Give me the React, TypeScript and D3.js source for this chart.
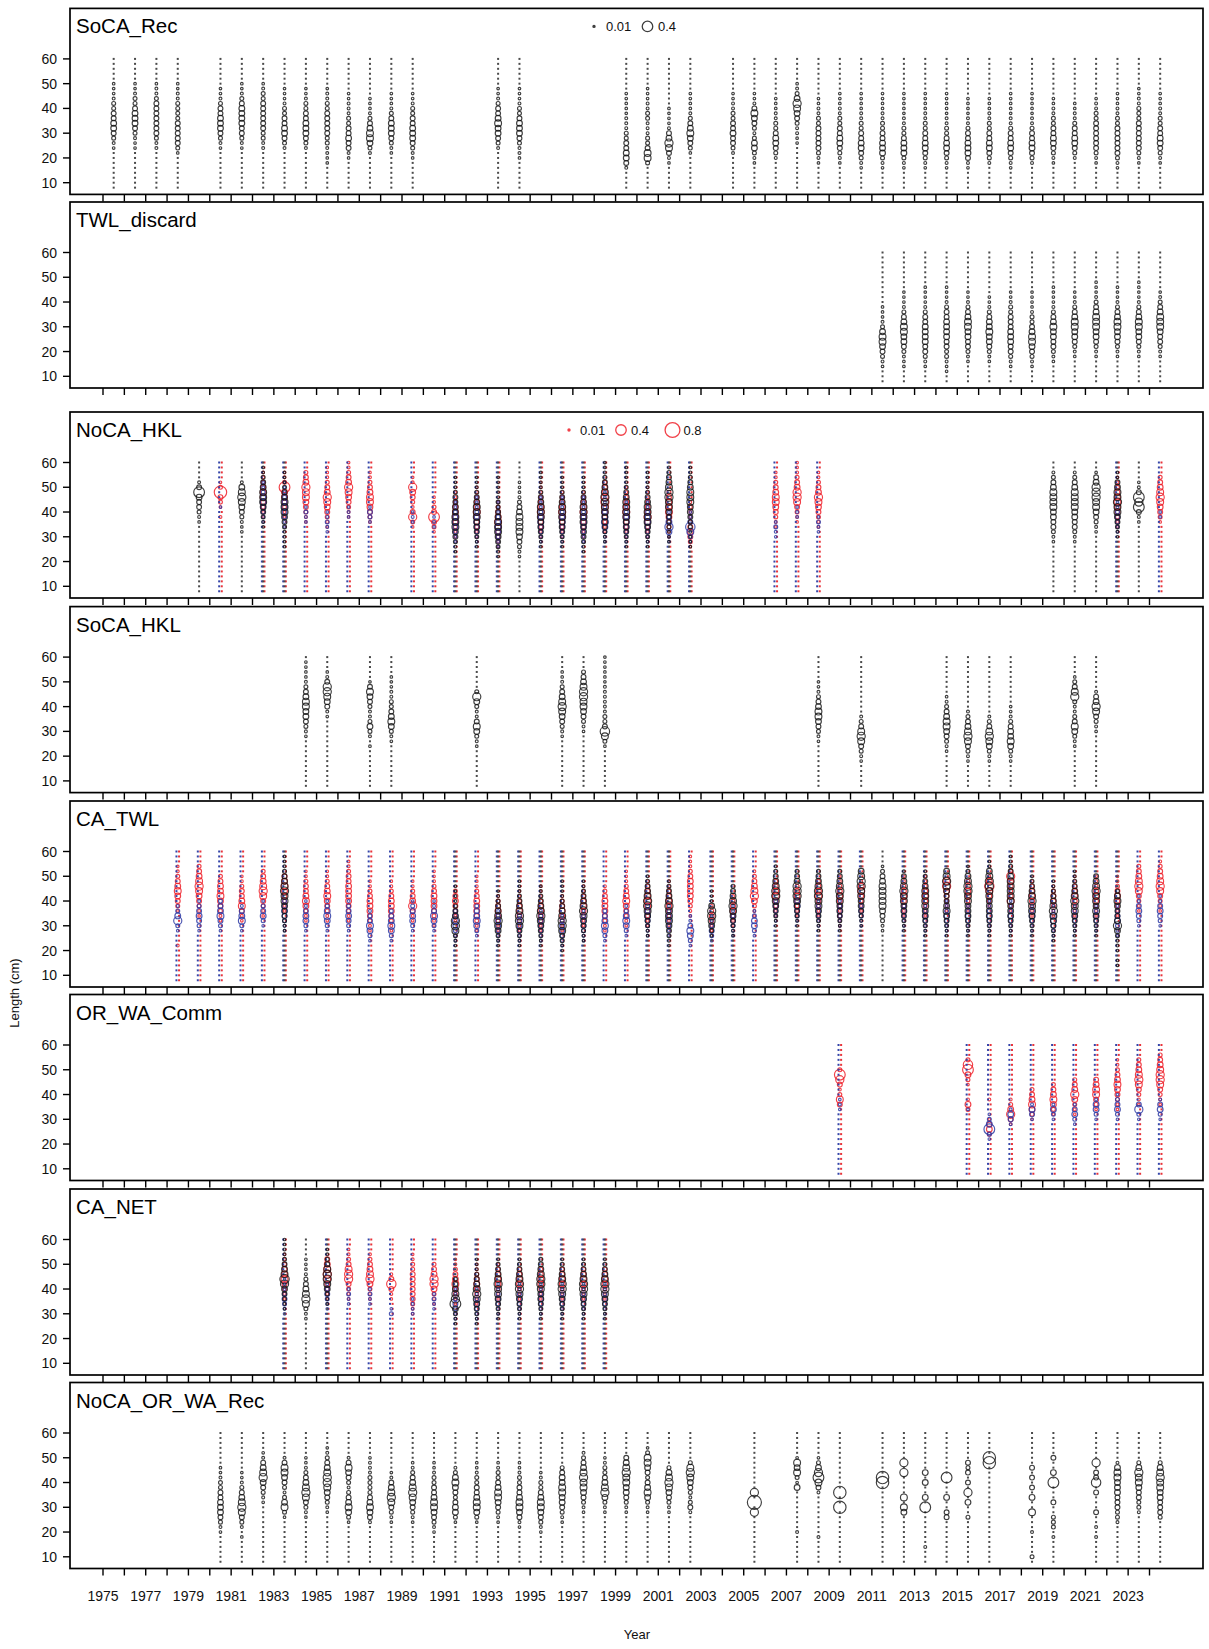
import React from 'react';
import * as d3 from 'd3';

// each row: [year, first length bin (cm), proportion codes for successive 2-cm bins]
type Row = [number, number, string];

const LEVEL: Record<string, number> = {
  '0': 0, '1': 0.004, '2': 0.012, '3': 0.03, '4': 0.055, '5': 0.085, '6': 0.12,
  '7': 0.17, '8': 0.24, '9': 0.32, a: 0.42, b: 0.56, c: 0.72,
};

const yearTicks = d3.range(1975, 2025);
const yearLabels = d3.range(1975, 2024, 2);
const lengthTicks = [10, 20, 30, 40, 50, 60];
const bins = d3.range(8, 61, 2);

const socaRec: Row[] = [
  [1975, 24, '23456655443221'], [1976, 24, '22345666544321'], [1977, 24, '33455555554332'],
  [1978, 22, '245555544443322'], [1980, 24, '2345666554321'], [1981, 24, '23455666654321'],
  [1982, 24, '33445555554432'], [1983, 24, '3456655443221'], [1984, 24, '3456665544321'],
  [1985, 18, '2233445555544332'], [1986, 20, '23556554433322'], [1987, 22, '346776543221'],
  [1988, 22, '2345666543221'], [1989, 20, '23456665544321'], [1993, 24, '3456676554321'],
  [1994, 20, '233456665443221'], [1999, 16, '3566554433322211'], [2000, 18, '4775443334433221'],
  [2001, 18, '235786532111'], [2002, 22, '2456765432211'], [2004, 22, '3455655443321'],
  [2005, 18, '234664345675321'], [2006, 20, '3456654433221'], [2007, 26, '2233456786432'],
  [2008, 18, '23455555443322'], [2009, 18, '234566554433221'], [2010, 16, '2345665544332211'],
  [2011, 16, '2346665544332211'], [2012, 16, '2346665443322111'], [2013, 16, '2345665544332211'],
  [2014, 16, '2345665443322111'], [2015, 16, '235666554332211'], [2016, 18, '34566554433221'],
  [2017, 16, '2345665543322111'], [2018, 18, '345665543322111'], [2019, 18, '23456655443322'],
  [2020, 20, '345665543322'], [2021, 18, '23455555544332'], [2022, 16, '2345555554433221'],
  [2023, 18, '2345555554443321'], [2024, 18, '234566554433221'],
];

const twlDiscard: Row[] = [
  [2011, 14, '2345677643221'], [2012, 14, '2234566776543221'], [2013, 14, '23455666655432211'],
  [2014, 12, '223445566665543221'], [2015, 16, '234556677654321'], [2016, 16, '23456676654321'],
  [2017, 14, '2345566655544321'], [2018, 14, '2345677654432211'], [2019, 16, '2345566765432211'],
  [2020, 18, '23456677654321'], [2021, 18, '2345667776543211'], [2022, 18, '234566776543221'],
  [2023, 18, '2345667765432211'], [2024, 18, '23455677765432'],
];

const nocaHklU: Row[] = [
  [1979, 36, '234556a53'], [1981, 32, '12345678763'], [1982, 34, '2345677765421'],
  [1983, 26, '2233456777654321'], [1991, 24, '2345677766554321'], [1992, 26, '234566777654321'],
  [1993, 22, '23456777654432211'], [1994, 22, '2345677776543211'], [1995, 26, '2345667776543221'],
  [1996, 26, '234566777654321'], [1997, 24, '2345667777654321'], [1998, 28, '23456677787654321'],
  [1999, 26, '23456677776543221'], [2000, 26, '2345677776543221'], [2001, 28, '2234456778876543'],
  [2002, 26, '22334456677765432'], [2019, 28, '234556677776543'], [2020, 28, '234556677776543'],
  [2021, 32, '2345677888652'], [2022, 30, '23456778776521'], [2023, 36, '235a8a532'],
];
const nocaHklF: Row[] = [
  [1980, 36, '030245b42'], [1982, 38, '2345665432'], [1983, 38, '234566a432'],
  [1984, 36, '23456778654'], [1985, 34, '2345678654321'], [1986, 38, '234567865432'],
  [1987, 36, '34567765432'], [1989, 34, '24853456832'], [1990, 32, '245a5432'],
  [1991, 30, '2345665432'], [1992, 30, '23456765432'], [1993, 26, '2345676543'],
  [1995, 30, '234567654321'], [1996, 30, '2345676543'], [1997, 30, '2345676543'],
  [1998, 32, '23456787654'], [1999, 30, '23456765432'], [2000, 30, '23467654321'],
  [2001, 30, '2345676654'], [2002, 26, '2456543343'], [2006, 34, '234567765432'],
  [2007, 36, '2345788654321'], [2008, 34, '234567865432'], [2022, 34, '23456765432'],
  [2024, 36, '2456787654'],
];
const nocaHklM: Row[] = [
  [1980, 42, '2'], [1982, 36, '234565432'], [1983, 34, '2345654321'], [1984, 36, '2342'],
  [1985, 32, '23432'], [1986, 38, '232'], [1987, 36, '2452'], [1989, 36, '232'], [1990, 34, '232'],
  [1991, 28, '234565432'], [1992, 28, '2345654321'], [1993, 26, '2345654321'],
  [1995, 28, '2345654321'], [1996, 28, '2345654321'], [1997, 28, '2345654321'],
  [1998, 28, '23467654321'], [1999, 28, '234565432'], [2000, 28, '234565432'],
  [2001, 28, '2368643'], [2002, 28, '2479532'], [2006, 30, '2342'], [2007, 38, '232'],
  [2008, 32, '2342'], [2022, 32, '2345432'], [2024, 38, '22'],
];

const socaHkl: Row[] = [
  [1984, 28, '2345667765432211'], [1985, 36, '2356788532'], [1987, 24, '20346433456752'],
  [1988, 26, '23467654433221'], [1992, 24, '234675334684'], [1996, 28, '23456787654321'],
  [1997, 30, '2345677887654'], [1998, 24, '2479544333333222111'], [2008, 26, '2345677654321'],
  [2010, 18, '2345787543'], [2014, 22, '234567765432'], [2015, 18, '23457876543'],
  [2016, 18, '2346787543'], [2017, 18, '234676654321'], [2020, 24, '234675433487542'],
  [2021, 30, '234578653'],
];

const caTwlU: Row[] = [
  [1983, 28, '2345567787654321'], [1991, 22, '2347886543321'], [1993, 22, '234678765432'],
  [1994, 22, '23457887654321'], [1995, 22, '2345678765432'], [1996, 20, '234578876543221'],
  [1997, 24, '2345678765432'], [2000, 26, '2345678876543'], [2001, 22, '23456777876543'],
  [2003, 26, '2467886321'], [2004, 26, '23456787654'], [2006, 30, '2345678876543'],
  [2007, 30, '234567888654'], [2008, 28, '2345677887654'], [2009, 28, '2345667787654'],
  [2010, 30, '234566778876'], [2011, 28, '23456777776542'], [2012, 28, '2345667787653'],
  [2013, 26, '23456677776543'], [2014, 26, '23456765567876'], [2015, 26, '234566677887642'],
  [2016, 26, '2345666677887632'], [2017, 26, '23456667777765432'], [2018, 26, '2345677876543'],
  [2019, 24, '2345678765432'], [2020, 26, '23456778765432'], [2021, 26, '2345676778765'],
  [2022, 14, '2202334686556764'],
];
const caTwlF: Row[] = [
  [1978, 22, '30000002456765432'], [1979, 34, '23456787654'], [1980, 32, '2345676654'],
  [1981, 32, '2357655432'], [1982, 34, '2345787654'], [1983, 36, '23456765'],
  [1984, 32, '23467655432'], [1985, 32, '23456765432'], [1986, 32, '2345666655432'],
  [1987, 28, '23456665432'], [1988, 28, '23456665432'], [1989, 32, '235865432'],
  [1990, 30, '234566654321'], [1991, 32, '2345654'], [1992, 28, '234566654321'],
  [1993, 28, '23456543'], [1994, 28, '234565432'], [1995, 28, '2345654321'],
  [1996, 28, '23456543'], [1997, 30, '234565432'], [1998, 28, '2345666543'],
  [1999, 30, '234567654321'], [2000, 30, '2345676543'], [2001, 30, '2345665432'],
  [2002, 34, '2345666654321'], [2003, 28, '234543'], [2004, 30, '2346543'],
  [2005, 34, '2346876543'], [2006, 34, '23457654'], [2007, 34, '2345654'],
  [2008, 34, '23457654'], [2009, 30, '23434565432'], [2010, 36, '2345763'],
  [2012, 34, '234565432'], [2013, 34, '234565432'], [2014, 36, '2345687'],
  [2015, 36, '2345654'], [2016, 38, '2457963'], [2017, 36, '247545684'],
  [2018, 34, '23456543'], [2019, 34, '2345543'], [2020, 34, '234565432'],
  [2021, 34, '234565432'], [2022, 34, '234565432'], [2023, 36, '2345787654'],
  [2024, 36, '23457876543'],
];
const caTwlM: Row[] = [
  [1978, 28, '248643'], [1979, 28, '2456543'], [1980, 28, '2457654'], [1981, 28, '247653'],
  [1982, 30, '246542'], [1983, 28, '2345654'], [1984, 28, '2466532'], [1985, 28, '2467643'],
  [1986, 28, '2456543'], [1987, 24, '2467543'], [1988, 24, '2467654'], [1989, 28, '2466542'],
  [1990, 28, '2467532'], [1991, 24, '2345654'], [1992, 26, '2467654'], [1993, 24, '2345543'],
  [1994, 24, '234554'], [1995, 24, '2345543'], [1996, 22, '2345543'], [1997, 24, '2345543'],
  [1998, 24, '2467654'], [1999, 26, '2467643'], [2000, 26, '2345654'], [2001, 26, '2345543'],
  [2002, 22, '2467532'], [2003, 24, '245432'], [2004, 26, '2345432'], [2005, 26, '246642'],
  [2006, 32, '23454'], [2007, 32, '24565'], [2008, 30, '234543'], [2009, 30, '234543'],
  [2010, 30, '23454'], [2012, 30, '23454'], [2013, 28, '234543'], [2014, 28, '2345432'],
  [2015, 28, '234543'], [2016, 28, '2345432'], [2017, 28, '2345432'], [2018, 28, '2346532'],
  [2019, 26, '2356632'], [2020, 28, '234543'], [2021, 28, '234543'], [2022, 26, '2346543'],
  [2023, 30, '2456532'], [2024, 30, '2456532'],
];

const orwaCommF: Row[] = [
  [2009, 36, '574358a4'], [2015, 34, '46300246a94'], [2016, 24, '46520003'],
  [2017, 28, '258643'], [2018, 30, '2467654'], [2019, 32, '2467654'], [2020, 32, '23468654'],
  [2021, 34, '2457765'], [2022, 34, '23456765432'], [2023, 36, '2345787654'],
  [2024, 36, '23457887654'],
];
const orwaCommM: Row[] = [
  [2009, 34, '232'], [2015, 34, '2'], [2016, 22, '24a642'], [2017, 28, '3563'],
  [2018, 30, '2563'], [2019, 30, '2463'], [2020, 28, '24653'], [2021, 30, '24663'],
  [2022, 30, '246542'], [2023, 30, '2485'], [2024, 30, '24653'],
];

const caNetU: Row[] = [
  [1983, 32, '234568976543322'], [1984, 28, '2347876543221'], [1985, 34, '234678875432'],
  [1991, 26, '2346a87654'], [1992, 26, '23456787654321'], [1993, 28, '2345677876543'],
  [1994, 28, '2345678876543'], [1995, 28, '2345667887654'], [1996, 28, '2345678876543'],
  [1997, 28, '2345678876543'], [1998, 28, '2345678876543'],
];
const caNetF: Row[] = [
  [1983, 36, '2345765432'], [1985, 36, '234578765'], [1986, 36, '23458875432'],
  [1987, 36, '2346876543'], [1988, 36, '235953'], [1989, 30, '2345555554432'],
  [1990, 34, '234688654'], [1991, 34, '2345765432'], [1992, 34, '234565432'],
  [1993, 36, '23466543'], [1994, 36, '2346654'], [1995, 36, '2346654'],
  [1996, 36, '2346654'], [1997, 36, '2346654'], [1998, 36, '2346654'],
];
const caNetM: Row[] = [
  [1983, 30, '23454321'], [1985, 32, '234543'], [1986, 34, '2343'], [1987, 34, '2343'],
  [1988, 30, '42'], [1989, 30, '3232'], [1990, 32, '2343'], [1991, 28, '2345432'],
  [1992, 28, '2345432'], [1993, 30, '2345432'], [1994, 30, '2345432'], [1995, 30, '2345432'],
  [1996, 30, '2345432'], [1997, 30, '2345432'], [1998, 30, '2345432'],
];

const norRec: Row[] = [
  [1980, 20, '23456665544322'], [1981, 18, '20345787654321'], [1982, 32, '23456876532'],
  [1983, 26, '2476434567753'], [1984, 26, '2345787654321'], [1985, 28, '23456788765432'],
  [1986, 24, '24676543456753'], [1987, 24, '35676544443332'], [1988, 24, '23457876532'],
  [1989, 24, '2345678765432'], [1990, 20, '234567765544321'], [1991, 24, '246654567643'],
  [1992, 24, '2467765544322'], [1993, 24, '2345677654432'], [1994, 22, '23567765544322'],
  [1995, 20, '2345677654432'], [1996, 24, '234566776654'], [1997, 28, '2345677876543'],
  [1998, 28, '234687654432'], [1999, 28, '234566778765'], [2000, 28, '23467654567742'],
  [2001, 28, '2345678764'], [2002, 28, '35434567874'], [2005, 28, '80c08'],
  [2007, 20, '3000000006247672'], [2008, 18, '300000000357a8642'], [2009, 30, 'b00b'],
  [2011, 40, 'bb'], [2012, 28, '67070000808'], [2013, 14, '30000000a0600606'],
  [2014, 26, '55006000a'], [2015, 26, '400608050545'], [2016, 48, 'bb'],
  [2018, 10, '4000030007006050505'], [2019, 18, '30444005000a06005'],
  [2021, 18, '3030050005095508'], [2022, 24, '3445556667763'], [2023, 28, '34455677864'],
  [2024, 26, '455566778764'],
];

type Sex = 'U' | 'F' | 'M';
const SEX: Record<Sex, { stroke: string; zero: string; dx: number }> = {
  U: { stroke: 'rgba(20,20,20,0.82)', zero: '#4a4a4a', dx: 0 },
  F: { stroke: 'rgba(238,30,40,0.85)', zero: '#e8333a', dx: 1.3 },
  M: { stroke: 'rgba(45,58,165,0.85)', zero: '#3444a8', dx: -1.3 },
};

const panels: { name: string; series: [Sex, Row[]][]; legend?: Sex }[] = [
  { name: 'SoCA_Rec', series: [['U', socaRec]], legend: 'U' },
  { name: 'TWL_discard', series: [['U', twlDiscard]] },
  { name: 'NoCA_HKL', series: [['F', nocaHklF], ['M', nocaHklM], ['U', nocaHklU]], legend: 'F' },
  { name: 'SoCA_HKL', series: [['U', socaHkl]] },
  { name: 'CA_TWL', series: [['F', caTwlF], ['M', caTwlM], ['U', caTwlU]] },
  { name: 'OR_WA_Comm', series: [['F', orwaCommF], ['M', orwaCommM]] },
  { name: 'CA_NET', series: [['F', caNetF], ['M', caNetM], ['U', caNetU]] },
  { name: 'NoCA_OR_WA_Rec', series: [['U', norRec]] },
];

const W = 1209;
const H = 1649;
const LEFT = 70;
const RIGHT = 1203;
const PANEL_H = 186;
const PANEL_TOPS = [8.4, 202, 412, 606.6, 801, 994.5, 1189, 1382.5];

const x = d3.scaleLinear().domain([1975, 2024]).range([103, 1149.5]);
const r = d3.scaleSqrt().domain([0, 1]).range([0, 8.3]);

function columnMarks(rows: Row[], sex: Sex, y: d3.ScaleLinear<number, number>, key: string) {
  const st = SEX[sex];
  const out: React.ReactNode[] = [];
  rows.forEach(([yr, start, codes]) => {
    const cx = x(yr + 0.5);
    const vals = new Map<number, number>();
    codes.split('').forEach((c, i) => vals.set(start + 2 * i, LEVEL[c] ?? 0));
    bins.forEach((L) => {
      const p = vals.get(L) ?? 0;
      const k = `${key}-${sex}-${yr}-${L}`;
      if (p > 0) {
        out.push(
          <circle key={k} cx={cx} cy={y(L)} r={Math.max(1.3, r(p))} fill="none"
            stroke={st.stroke} strokeWidth={1.15} />
        );
      } else {
        out.push(
          <rect key={k} x={cx + st.dx - 1} y={y(L) - 1} width={2} height={2} fill={st.zero} />
        );
      }
    });
  });
  return out;
}

function Legend({ top, sex }: { top: number; sex: Sex }) {
  const cy = top + 18;
  const items = sex === 'U'
    ? [{ p: 0.01, cx: 594, tx: 606 }, { p: 0.4, cx: 647.5, tx: 658 }]
    : [{ p: 0.01, cx: 569, tx: 580 }, { p: 0.4, cx: 621, tx: 631 }, { p: 0.8, cx: 672.5, tx: 683.5 }];
  return (
    <g>
      {items.map((it) => (
        <g key={it.p}>
          <circle cx={it.cx} cy={cy} r={Math.max(0.9, r(it.p))} fill="none"
            stroke={SEX[sex].stroke} strokeWidth={it.p < 0.05 ? 1.6 : 1.3} />
          <text x={it.tx} y={cy + 4.5} fontSize={13} fill="#111">{it.p}</text>
        </g>
      ))}
    </g>
  );
}

function Panel({ idx }: { idx: number }) {
  const pn = panels[idx];
  const top = PANEL_TOPS[idx];
  const bottom = top + PANEL_H;
  const y = d3.scaleLinear().domain([10, 60]).range([top + 174.3, top + 50.5]);
  return (
    <g>
      {pn.series.map(([sex, rows]) => columnMarks(rows, sex, y, pn.name))}
      <rect x={LEFT} y={top} width={RIGHT - LEFT} height={PANEL_H} fill="none" stroke="#000" strokeWidth={1.7} />
      <text x={LEFT + 6} y={top + 25} fontSize={20.5} fill="#000">{pn.name}</text>
      {pn.legend && <Legend top={top} sex={pn.legend} />}
      {lengthTicks.map((v) => (
        <g key={v}>
          <line x1={LEFT - 7} x2={LEFT} y1={y(v)} y2={y(v)} stroke="#000" strokeWidth={1.4} />
          <text x={LEFT - 13} y={y(v) + 5} fontSize={14} textAnchor="end" fill="#111">{v}</text>
        </g>
      ))}
      {yearTicks.map((yr) => (
        <line key={yr} x1={x(yr)} x2={x(yr)} y1={bottom} y2={bottom + 7} stroke="#000" strokeWidth={1.4} />
      ))}
    </g>
  );
}

export default function App() {
  return (
    <svg width={W} height={H} style={{ position: 'absolute', left: 0, top: 0, background: '#fff' }}
      fontFamily="'Liberation Sans', Arial, sans-serif">
      <rect width={W} height={H} fill="#fff" />
      {panels.map((p, i) => <Panel key={p.name} idx={i} />)}
      {yearLabels.map((yr) => (
        <text key={yr} x={x(yr)} y={1601} fontSize={14} textAnchor="middle" fill="#111">{yr}</text>
      ))}
      <text x={637} y={1639} fontSize={13} textAnchor="middle" fill="#111">Year</text>
      <text transform="translate(19,993) rotate(-90)" fontSize={13} textAnchor="middle" fill="#111">Length (cm)</text>
    </svg>
  );
}
